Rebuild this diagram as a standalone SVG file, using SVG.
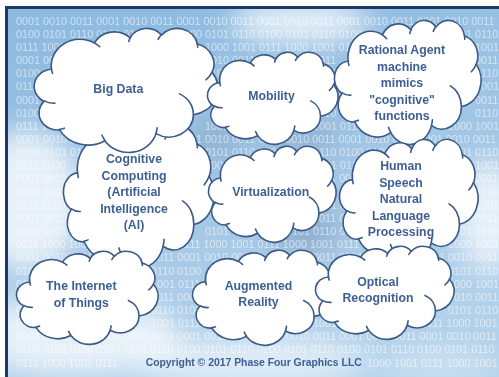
<svg xmlns="http://www.w3.org/2000/svg" width="499" height="377" viewBox="0 0 499 377">
  <defs>
    <style>
      .bin { font-family: "Liberation Sans", Arial, sans-serif; font-size: 10.8px; fill: #ffffff; fill-opacity: 0.55; }
      .label { font-family: "Liberation Sans", Arial, sans-serif; font-size: 12.3px; font-weight: bold; fill: #3d5f94; text-anchor: middle; }
      .copy { font-family: "Liberation Sans", Arial, sans-serif; font-size: 10.4px; font-weight: bold; fill: #3d5f94; text-anchor: middle; }
      .cloud-body { fill: #ffffff; stroke: #3b5a86; stroke-width: 1.6; stroke-linejoin: round; }
      .cloud-detail { fill: none; stroke: #3b5a86; stroke-width: 1.6; stroke-linecap: round; }
    </style>
    <linearGradient id="sky" x1="0" y1="0" x2="0.3" y2="1">
      <stop offset="0" stop-color="#8bb9df"/>
      <stop offset="0.55" stop-color="#a2c6e5"/>
      <stop offset="1" stop-color="#b2d1ea"/>
    </linearGradient>
    <filter id="haze" x="-50%" y="-50%" width="200%" height="200%">
      <feGaussianBlur stdDeviation="14"/>
    </filter>
    <clipPath id="frameClip">
      <rect x="8" y="9" width="491" height="368"/>
    </clipPath>
    <!-- cloud outline in a 100 x 100 box: eleven bumps plus the short inner strokes -->
    <g id="cloud">
      <path class="cloud-body" vector-effect="non-scaling-stroke" d="M 9.03 33.26 A 15.63 21.27 0 0 1 32.42 12.04 A 12.35 16.82 0 0 1 51.98 7.94 A 10.10 13.76 0 0 1 69.06 5.74 A 11.24 15.27 0 0 1 88.70 12.90 A 12.35 16.84 0 0 1 96.80 35.78 A 15.68 21.34 0 0 1 86.58 69.91 A 13.39 18.21 0 0 1 66.10 85.21 A 15.63 21.33 0 0 1 38.15 90.89 A 17.87 24.41 0 0 1 13.44 82.11 A 10.09 13.70 0 0 1 4.89 59.14 A 10.06 13.76 0 0 1 9.03 33.26 Z"/>
      <path class="cloud-detail" vector-effect="non-scaling-stroke" d="M 10.86 60.59 A 10.06 13.76 0 0 1 5.00 58.75 M 16.04 80.78 A 10.09 13.70 0 0 1 13.47 81.67 M 38.14 90.49 A 15.63 21.33 0 0 1 36.60 86.45 M 66.73 80.44 A 15.63 21.33 0 0 1 66.11 84.86 M 79.00 53.13 A 13.39 18.21 0 0 1 86.53 69.65 M 96.75 35.54 A 12.35 16.84 0 0 1 93.40 41.74 M 88.71 12.56 A 11.24 15.27 0 0 1 88.89 15.49 M 67.31 9.15 A 11.24 15.27 0 0 1 69.03 5.41 M 51.25 10.93 A 10.10 13.76 0 0 1 52.08 7.71 M 32.41 12.02 A 15.63 21.27 0 0 1 35.42 15.14 M 9.55 36.55 A 15.63 21.27 0 0 1 9.03 33.27"/>
    </g>
  </defs>

  <!-- page -->
  <rect x="0" y="0" width="499" height="377" fill="#ffffff"/>

  <!-- sky backdrop with soft cloud haze and binary rows -->
  <g id="backdrop" clip-path="url(#frameClip)">
    <rect x="8" y="9" width="491" height="368" fill="url(#sky)"/>
    <g filter="url(#haze)">
      <ellipse cx="25" cy="200" rx="60" ry="70" fill="#ffffff" opacity="0.75"/>
      <ellipse cx="70" cy="335" rx="110" ry="40" fill="#ffffff" opacity="0.7"/>
      <ellipse cx="300" cy="22" rx="70" ry="22" fill="#ffffff" opacity="0.75"/>
      <ellipse cx="490" cy="215" rx="35" ry="55" fill="#ffffff" opacity="0.7"/>
      <ellipse cx="250" cy="362" rx="120" ry="25" fill="#ffffff" opacity="0.6"/>
      <ellipse cx="440" cy="365" rx="60" ry="18" fill="#ffffff" opacity="0.35"/>
      <ellipse cx="305" cy="232" rx="35" ry="20" fill="#7d9aba" opacity="0.6"/>
      <ellipse cx="215" cy="140" rx="22" ry="18" fill="#7d9aba" opacity="0.5"/>
      <ellipse cx="305" cy="135" rx="30" ry="14" fill="#7d9aba" opacity="0.5"/>
    </g>
    <!-- binary rows: words at a 27px pitch from x=16, only where the sky shows -->
    <g id="binary-rows">
      <text class="bin" x="16" y="24.6">0001 0010 0011 0001 0010 0011 0001 0010 0011 0001 0010 0011 0001 0010 0011 0001 0010 0011</text>

      <text class="bin" x="16" y="37.8">0100 0101 0110 0100 0101</text>
      <text class="bin" x="178" y="37.8">0100 0101 0110 0100 0101 0110 0100</text>
      <text class="bin" x="448" y="37.8">0101 0110</text>

      <text class="bin" x="16" y="50.9">0111 1000</text>
      <text class="bin" x="205" y="50.9">1000 1001 0111 1000 1001 0111</text>
      <text class="bin" x="475" y="50.9">1001</text>

      <text class="bin" x="16" y="64.1">0001 0010</text>
      <text class="bin" x="205" y="64.1">0010 0011</text>
      <text class="bin" x="313" y="64.1">0011</text>
      <text class="bin" x="475" y="64.1">0011</text>

      <text class="bin" x="16" y="77.2">0100</text>
      <text class="bin" x="205" y="77.2">0101</text>
      <text class="bin" x="313" y="77.2">0110</text>
      <text class="bin" x="475" y="77.2">0110</text>

      <text class="bin" x="16" y="90.4">0111</text>
      <text class="bin" x="475" y="90.4">1001</text>

      <text class="bin" x="16" y="103.5">0001</text>
      <text class="bin" x="475" y="103.5">0011</text>

      <text class="bin" x="16" y="116.7">0100</text>
      <text class="bin" x="313" y="116.7">0110</text>
      <text class="bin" x="475" y="116.7">0110</text>

      <text class="bin" x="16" y="129.8">0111 1000</text>
      <text class="bin" x="205" y="129.8">1000</text>
      <text class="bin" x="313" y="129.8">1001 0111</text>
      <text class="bin" x="448" y="129.8">1000 1001</text>

      <text class="bin" x="16" y="143.0">0001 0010 0011</text>
      <text class="bin" x="178" y="143.0">0001 0010 0011 0001 0010 0011 0001 0010 0011 0001 0010 0011</text>

      <text class="bin" x="16" y="156.1">0100 0101 0110</text>
      <text class="bin" x="205" y="156.1">0101 0110 0100</text>
      <text class="bin" x="313" y="156.1">0110 0100 0101</text>
      <text class="bin" x="448" y="156.1">0101 0110</text>

      <text class="bin" x="16" y="169.3">0111 1000</text>
      <text class="bin" x="205" y="169.3">1000</text>
      <text class="bin" x="313" y="169.3">1001 0111</text>
      <text class="bin" x="475" y="169.3">1001</text>

      <text class="bin" x="16" y="182.4">0001 0010</text>
      <text class="bin" x="313" y="182.4">0011 0001</text>
      <text class="bin" x="475" y="182.4">0011</text>

      <text class="bin" x="16" y="195.6">0100 0101</text>
      <text class="bin" x="313" y="195.6">0110 0100</text>
      <text class="bin" x="475" y="195.6">0110</text>

      <text class="bin" x="16" y="208.7">0111 1000</text>
      <text class="bin" x="313" y="208.7">1001 0111</text>
      <text class="bin" x="475" y="208.7">1001</text>

      <text class="bin" x="16" y="221.9">0001 0010</text>
      <text class="bin" x="313" y="221.9">0011 0001</text>
      <text class="bin" x="475" y="221.9">0011</text>

      <text class="bin" x="16" y="235.0">0100 0101</text>
      <text class="bin" x="205" y="235.0">0101 0110</text>
      <text class="bin" x="286" y="235.0">0101 0110 0100</text>
      <text class="bin" x="448" y="235.0">0101 0110</text>

      <text class="bin" x="16" y="248.2">0111 1000 1001</text>
      <text class="bin" x="178" y="248.2">0111 1000 1001 0111 1000 1001 0111</text>
      <text class="bin" x="448" y="248.2">1000 1001</text>

      <text class="bin" x="16" y="261.3">0001 0010 0011</text>
      <text class="bin" x="151" y="261.3">0011 0001 0010 0011</text>
      <text class="bin" x="313" y="261.3">0011 0001</text>
      <text class="bin" x="421" y="261.3">0001 0010 0011</text>

      <text class="bin" x="16" y="274.5">0100</text>
      <text class="bin" x="151" y="274.5">0110 0100</text>
      <text class="bin" x="448" y="274.5">0101 0110</text>

      <text class="bin" x="16" y="287.6">0111</text>
      <text class="bin" x="151" y="287.6">1001 0111</text>
      <text class="bin" x="448" y="287.6">1000 1001</text>

      <text class="bin" x="16" y="300.8">0001</text>
      <text class="bin" x="151" y="300.8">0011 0001</text>
      <text class="bin" x="448" y="300.8">0010 0011</text>

      <text class="bin" x="16" y="313.9">0100</text>
      <text class="bin" x="151" y="313.9">0110 0100</text>
      <text class="bin" x="448" y="313.9">0101 0110</text>

      <text class="bin" x="16" y="327.1">0111</text>
      <text class="bin" x="151" y="327.1">1001 0111</text>
      <text class="bin" x="313" y="327.1">1001</text>
      <text class="bin" x="421" y="327.1">0111 1000 1001</text>

      <text class="bin" x="16" y="340.2">0001 0010</text>
      <text class="bin" x="97" y="340.2">0001 0010 0011 0001 0010</text>
      <text class="bin" x="286" y="340.2">0010 0011 0001 0010 0011 0001 0010 0011</text>

      <text class="bin" x="16" y="353.4">0100 0101 0110 0100 0101 0110 0100 0101 0110 0100 0101 0110 0100 0101 0110 0100 0101 0110</text>

      <text class="bin" x="16" y="366.5">0111 1000 1001 0111</text>
      <text class="bin" x="367" y="366.5">1000 1001 0111 1000 1001</text>
    </g>
  </g>

  <!-- outer frame -->
  <rect x="6.5" y="7.5" width="500" height="380" fill="none" stroke="#1f3a62" stroke-width="3"/>

  <!-- no connectors between the clouds -->
  <g id="connectors"/>

  <g id="node-cognitive">
    <use href="#cloud" transform="translate(64,126) scale(1.5,1.41)"/>
    <text class="label" x="134" y="163.3">Cognitive</text>
    <text class="label" x="134" y="179.8">Computing</text>
    <text class="label" x="134" y="196.3">(Artificial</text>
    <text class="label" x="134" y="212.8">Intelligence</text>
    <text class="label" x="134" y="229.3">(AI)</text>
  </g>

  <g id="node-big-data">
    <use href="#cloud" transform="translate(35,28) scale(1.83,1.24)"/>
    <text class="label" x="118.3" y="92.5">Big Data</text>
  </g>

  <g id="node-mobility">
    <use href="#cloud" transform="translate(208,52) scale(1.3,0.92)"/>
    <text class="label" x="271.5" y="99.6">Mobility</text>
  </g>

  <g id="node-rational-agent">
    <use href="#cloud" transform="translate(335,20) scale(1.46,1.24)"/>
    <text class="label" x="402" y="54.3">Rational Agent</text>
    <text class="label" x="402" y="70.8">machine</text>
    <text class="label" x="402" y="87.3">mimics</text>
    <text class="label" x="402" y="103.8">"cognitive"</text>
    <text class="label" x="402" y="120.3">functions</text>
  </g>

  <g id="node-virtualization">
    <use href="#cloud" transform="translate(209,146) scale(1.27,0.96)"/>
    <text class="label" x="270.7" y="196.3">Virtualization</text>
  </g>

  <g id="node-human-speech">
    <use href="#cloud" transform="translate(340,139) scale(1.38,1.22)"/>
    <text class="label" x="401" y="170">Human</text>
    <text class="label" x="401" y="186.5">Speech</text>
    <text class="label" x="401" y="203">Natural</text>
    <text class="label" x="401" y="219.5">Language</text>
    <text class="label" x="401" y="236">Processing</text>
  </g>

  <g id="node-internet-of-things">
    <use href="#cloud" transform="translate(17,251) scale(1.41,0.93)"/>
    <text class="label" x="81.3" y="290">The Internet</text>
    <text class="label" x="81.3" y="306.5">of Things</text>
  </g>

  <g id="node-augmented-reality">
    <use href="#cloud" transform="translate(193,250) scale(1.4,0.95)"/>
    <text class="label" x="258.5" y="289.7">Augmented</text>
    <text class="label" x="258.5" y="306.2">Reality</text>
  </g>

  <g id="node-optical-recognition">
    <use href="#cloud" transform="translate(316,246) scale(1.38,0.93)"/>
    <text class="label" x="378" y="285.6">Optical</text>
    <text class="label" x="378" y="302.1">Recognition</text>
  </g>

  <text class="copy" x="253.7" y="366.3">Copyright © 2017 Phase Four Graphics LLC</text>
</svg>
